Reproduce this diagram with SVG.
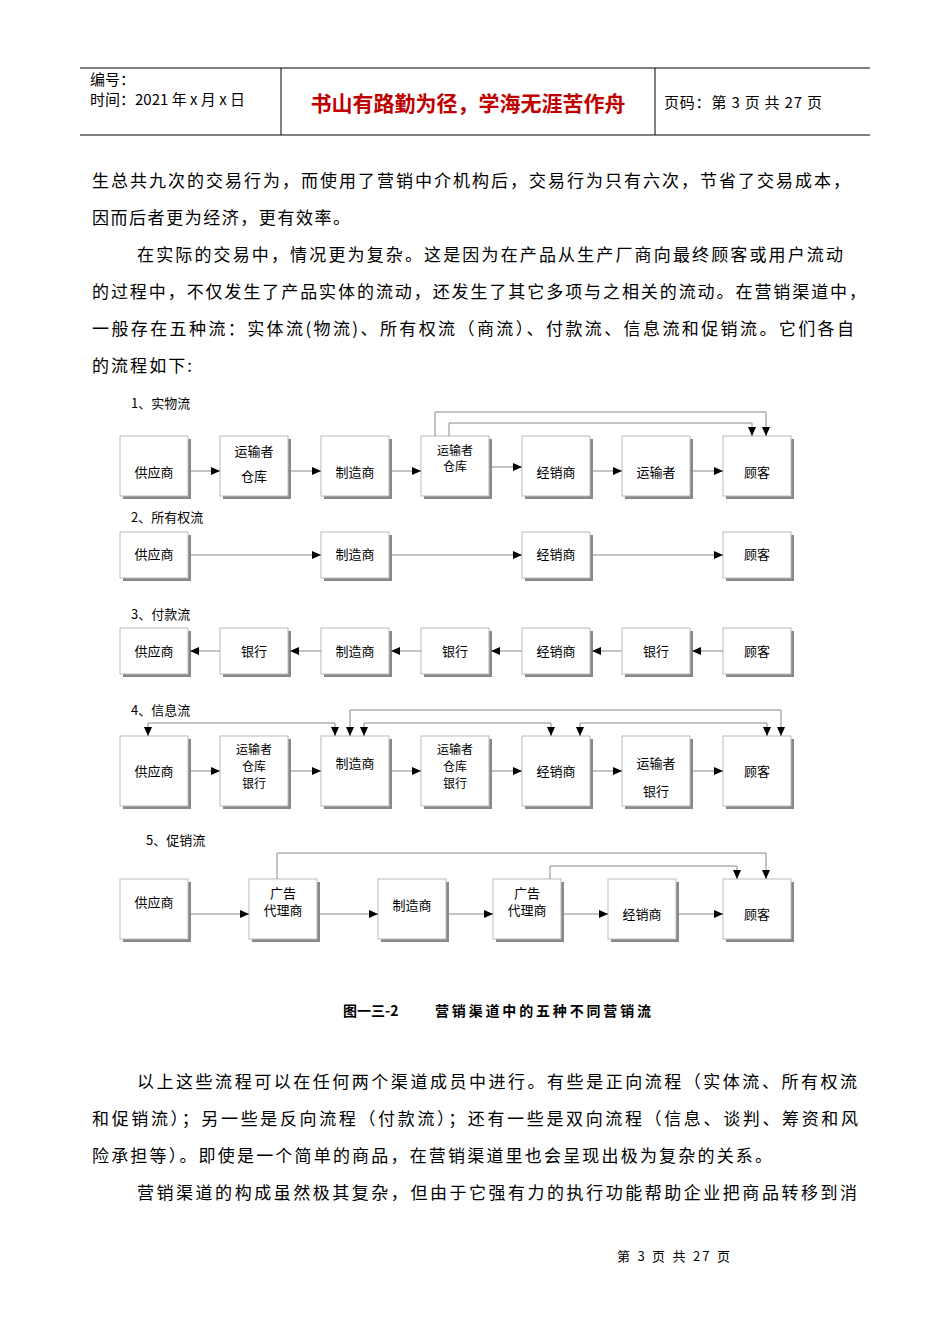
<svg xmlns="http://www.w3.org/2000/svg" width="950" height="1344" viewBox="0 0 950 1344">
<style>
text{font-family:"Noto Sans CJK SC","Liberation Serif",serif;fill:#000}
.b{font-size:13px;text-anchor:middle}
.s{font-size:12px;text-anchor:middle}
.p{font-size:17px}
.h{font-size:15px}
.sh{fill:#888}
.bx{fill:#fff;stroke:#bbb;stroke-width:1}
.c{fill:none;stroke:#888;stroke-width:1}
</style>
<defs>
<marker id="a" markerWidth="10" markerHeight="10" refX="9" refY="4" orient="auto" markerUnits="userSpaceOnUse"><path d="M0,0L9,4L0,8z" fill="#000"/></marker>
<g id="box"><rect class="sh" x="3" y="3" width="68" height="60"/><rect class="bx" x="0" y="0" width="68" height="60"/></g>
</defs>
<rect width="950" height="1344" fill="#fff"/>
<g id="header">
<line x1="80" y1="68" x2="870" y2="68" stroke="#000"/>
<line x1="80" y1="135" x2="870" y2="135" stroke="#000"/>
<line x1="281" y1="68" x2="281" y2="135" stroke="#000"/>
<line x1="655" y1="68" x2="655" y2="135" stroke="#000"/>
<text class="h" x="90" y="85">编号：</text>
<text class="h" x="90" y="105">时间：2021 年 x 月 x 日</text>
<text x="468" y="111" font-size="21" font-weight="bold" text-anchor="middle" style="fill:#c00000">书山有路勤为径，学海无涯苦作舟</text>
<text class="h" x="664" y="108" textLength="158" lengthAdjust="spacing">页码：第 3 页  共 27 页</text>
</g>
<g id="body">
<text class="p" x="92" y="187" textLength="758" lengthAdjust="spacing">生总共九次的交易行为，而使用了营销中介机构后，交易行为只有六次，节省了交易成本，</text>
<text class="p" x="92" y="224" textLength="258" lengthAdjust="spacing">因而后者更为经济，更有效率。</text>
<text class="p" x="137" y="261" textLength="706" lengthAdjust="spacing">在实际的交易中，情况更为复杂。这是因为在产品从生产厂商向最终顾客或用户流动</text>
<text class="p" x="92" y="298" textLength="774" lengthAdjust="spacing">的过程中，不仅发生了产品实体的流动，还发生了其它多项与之相关的流动。在营销渠道中，</text>
<text class="p" x="92" y="335" textLength="762" lengthAdjust="spacing">一般存在五种流：实体流(物流)、所有权流（商流）、付款流、信息流和促销流。它们各自</text>
<text class="p" x="92" y="372" textLength="100" lengthAdjust="spacing">的流程如下:</text>
</g>
<g id="titles">
<text x="131" y="408" font-size="13">1、实物流</text>
<text x="131" y="522" font-size="13">2、所有权流</text>
<text x="131" y="619" font-size="13">3、付款流</text>
<text x="131" y="715" font-size="13">4、信息流</text>
<text x="146" y="845" font-size="13">5、促销流</text>
</g>
<g id="f1n1"><use href="#box" x="120" y="436"/><text class="b" x="154" y="477">供应商</text></g>
<g id="f1n2"><use href="#box" x="220" y="436"/><text class="b" x="254" y="456">运输者</text><text class="b" x="254" y="481">仓库</text></g>
<g id="f1n3"><use href="#box" x="321" y="436"/><text class="b" x="355" y="477">制造商</text></g>
<g id="f1n4"><use href="#box" x="421" y="436"/><text class="s" x="455" y="455">运输者</text><text class="s" x="455" y="471">仓库</text></g>
<g id="f1n5"><use href="#box" x="522" y="436"/><text class="b" x="556" y="477">经销商</text></g>
<g id="f1n6"><use href="#box" x="622" y="436"/><text class="b" x="656" y="477">运输者</text></g>
<g id="f1n7"><use href="#box" x="723" y="436"/><text class="b" x="757" y="477">顾客</text></g>
<g id="f2n1"><rect class="sh" x="123" y="535" width="68" height="46"/><rect class="bx" x="120" y="532" width="68" height="46"/><text class="b" x="154" y="559">供应商</text></g>
<g id="f2n2"><rect class="sh" x="324" y="535" width="68" height="46"/><rect class="bx" x="321" y="532" width="68" height="46"/><text class="b" x="355" y="559">制造商</text></g>
<g id="f2n3"><rect class="sh" x="525" y="535" width="68" height="46"/><rect class="bx" x="522" y="532" width="68" height="46"/><text class="b" x="556" y="559">经销商</text></g>
<g id="f2n4"><rect class="sh" x="726" y="535" width="68" height="46"/><rect class="bx" x="723" y="532" width="68" height="46"/><text class="b" x="757" y="559">顾客</text></g>
<g id="f3n1"><rect class="sh" x="123" y="631" width="68" height="46"/><rect class="bx" x="120" y="628" width="68" height="46"/><text class="b" x="154" y="656">供应商</text></g>
<g id="f3n2"><rect class="sh" x="223" y="631" width="68" height="46"/><rect class="bx" x="220" y="628" width="68" height="46"/><text class="b" x="254" y="656">银行</text></g>
<g id="f3n3"><rect class="sh" x="324" y="631" width="68" height="46"/><rect class="bx" x="321" y="628" width="68" height="46"/><text class="b" x="355" y="656">制造商</text></g>
<g id="f3n4"><rect class="sh" x="424" y="631" width="68" height="46"/><rect class="bx" x="421" y="628" width="68" height="46"/><text class="b" x="455" y="656">银行</text></g>
<g id="f3n5"><rect class="sh" x="525" y="631" width="68" height="46"/><rect class="bx" x="522" y="628" width="68" height="46"/><text class="b" x="556" y="656">经销商</text></g>
<g id="f3n6"><rect class="sh" x="625" y="631" width="68" height="46"/><rect class="bx" x="622" y="628" width="68" height="46"/><text class="b" x="656" y="656">银行</text></g>
<g id="f3n7"><rect class="sh" x="726" y="631" width="68" height="46"/><rect class="bx" x="723" y="628" width="68" height="46"/><text class="b" x="757" y="656">顾客</text></g>
<g id="f4n1"><rect class="sh" x="123" y="739" width="68" height="70"/><rect class="bx" x="120" y="736" width="68" height="70"/><text class="b" x="154" y="776">供应商</text></g>
<g id="f4n2"><rect class="sh" x="223" y="739" width="68" height="70"/><rect class="bx" x="220" y="736" width="68" height="70"/><text class="s" x="254" y="754">运输者</text><text class="s" x="254" y="771">仓库</text><text class="s" x="254" y="788">银行</text></g>
<g id="f4n3"><rect class="sh" x="324" y="739" width="68" height="70"/><rect class="bx" x="321" y="736" width="68" height="70"/><text class="b" x="355" y="768">制造商</text></g>
<g id="f4n4"><rect class="sh" x="424" y="739" width="68" height="70"/><rect class="bx" x="421" y="736" width="68" height="70"/><text class="s" x="455" y="754">运输者</text><text class="s" x="455" y="771">仓库</text><text class="s" x="455" y="788">银行</text></g>
<g id="f4n5"><rect class="sh" x="525" y="739" width="68" height="70"/><rect class="bx" x="522" y="736" width="68" height="70"/><text class="b" x="556" y="776">经销商</text></g>
<g id="f4n6"><rect class="sh" x="625" y="739" width="68" height="70"/><rect class="bx" x="622" y="736" width="68" height="70"/><text class="b" x="656" y="768">运输者</text><text class="b" x="656" y="796">银行</text></g>
<g id="f4n7"><rect class="sh" x="726" y="739" width="68" height="70"/><rect class="bx" x="723" y="736" width="68" height="70"/><text class="b" x="757" y="776">顾客</text></g>
<g id="f5n1"><use href="#box" x="120" y="879"/><text class="b" x="154" y="907">供应商</text></g>
<g id="f5n2"><use href="#box" x="249" y="879"/><text class="b" x="283" y="898">广告</text><text class="b" x="283" y="915">代理商</text></g>
<g id="f5n3"><use href="#box" x="378" y="879"/><text class="b" x="412" y="910">制造商</text></g>
<g id="f5n4"><use href="#box" x="493" y="879"/><text class="b" x="527" y="898">广告</text><text class="b" x="527" y="915">代理商</text></g>
<g id="f5n5"><use href="#box" x="608" y="879"/><text class="b" x="642" y="919">经销商</text></g>
<g id="f5n6"><use href="#box" x="723" y="879"/><text class="b" x="757" y="919">顾客</text></g>
<g id="connectors">
<line class="c" x1="188" y1="471" x2="220" y2="471" marker-end="url(#a)"/>
<line class="c" x1="288" y1="471" x2="321" y2="471" marker-end="url(#a)"/>
<line class="c" x1="389" y1="471" x2="421" y2="471" marker-end="url(#a)"/>
<line class="c" x1="489" y1="467" x2="522" y2="467" marker-end="url(#a)"/>
<line class="c" x1="590" y1="471" x2="622" y2="471" marker-end="url(#a)"/>
<line class="c" x1="690" y1="471" x2="723" y2="471" marker-end="url(#a)"/>
<path class="c" d="M435,436V412H766V436" marker-end="url(#a)"/>
<path class="c" d="M449,436V423H752V436" marker-end="url(#a)"/>
<line class="c" x1="188" y1="555" x2="321" y2="555" marker-end="url(#a)"/>
<line class="c" x1="389" y1="555" x2="522" y2="555" marker-end="url(#a)"/>
<line class="c" x1="590" y1="555" x2="723" y2="555" marker-end="url(#a)"/>
<line class="c" x1="220" y1="651" x2="190" y2="651" marker-end="url(#a)"/>
<line class="c" x1="321" y1="651" x2="290" y2="651" marker-end="url(#a)"/>
<line class="c" x1="421" y1="651" x2="391" y2="651" marker-end="url(#a)"/>
<line class="c" x1="522" y1="651" x2="491" y2="651" marker-end="url(#a)"/>
<line class="c" x1="622" y1="651" x2="592" y2="651" marker-end="url(#a)"/>
<line class="c" x1="723" y1="651" x2="692" y2="651" marker-end="url(#a)"/>
<line class="c" x1="188" y1="771" x2="220" y2="771" marker-end="url(#a)"/>
<line class="c" x1="288" y1="771" x2="321" y2="771" marker-end="url(#a)"/>
<line class="c" x1="389" y1="771" x2="421" y2="771" marker-end="url(#a)"/>
<line class="c" x1="489" y1="771" x2="522" y2="771" marker-end="url(#a)"/>
<line class="c" x1="590" y1="771" x2="622" y2="771" marker-end="url(#a)"/>
<line class="c" x1="690" y1="771" x2="723" y2="771" marker-end="url(#a)"/>
<path class="c" d="M240,723H148V736" marker-end="url(#a)"/>
<path class="c" d="M240,723H335V736" marker-end="url(#a)"/>
<path class="c" d="M560,710H350V736" marker-end="url(#a)"/>
<path class="c" d="M560,710H781V736" marker-end="url(#a)"/>
<path class="c" d="M458,723H364V736" marker-end="url(#a)"/>
<path class="c" d="M458,723H551V736" marker-end="url(#a)"/>
<path class="c" d="M673,723H580V736" marker-end="url(#a)"/>
<path class="c" d="M673,723H767V736" marker-end="url(#a)"/>
<line class="c" x1="188" y1="914" x2="249" y2="914" marker-end="url(#a)"/>
<line class="c" x1="317" y1="914" x2="378" y2="914" marker-end="url(#a)"/>
<line class="c" x1="446" y1="914" x2="493" y2="914" marker-end="url(#a)"/>
<line class="c" x1="561" y1="914" x2="608" y2="914" marker-end="url(#a)"/>
<line class="c" x1="676" y1="914" x2="723" y2="914" marker-end="url(#a)"/>
<path class="c" d="M277,879V853H766V879" marker-end="url(#a)"/>
<path class="c" d="M550,879V866H737V879" marker-end="url(#a)"/>
</g>
<g id="caption">
<text x="343" y="1016" font-size="14" font-weight="bold">图一三-2</text>
<text x="435" y="1016" font-size="14" font-weight="bold" textLength="216" lengthAdjust="spacing">营销渠道中的五种不同营销流</text>
</g>
<g id="body2">
<text class="p" x="137" y="1088" textLength="720" lengthAdjust="spacing">以上这些流程可以在任何两个渠道成员中进行。有些是正向流程（实体流、所有权流</text>
<text class="p" x="92" y="1125" textLength="766" lengthAdjust="spacing">和促销流）；另一些是反向流程（付款流）；还有一些是双向流程（信息、谈判、筹资和风</text>
<text class="p" x="92" y="1162" textLength="680" lengthAdjust="spacing">险承担等）。即使是一个简单的商品，在营销渠道里也会呈现出极为复杂的关系。</text>
<text class="p" x="137" y="1199" textLength="720" lengthAdjust="spacing">营销渠道的构成虽然极其复杂，但由于它强有力的执行功能帮助企业把商品转移到消</text>
</g>
<text x="617" y="1261" font-size="13" textLength="113" lengthAdjust="spacing">第 3 页 共 27 页</text>
</svg>
